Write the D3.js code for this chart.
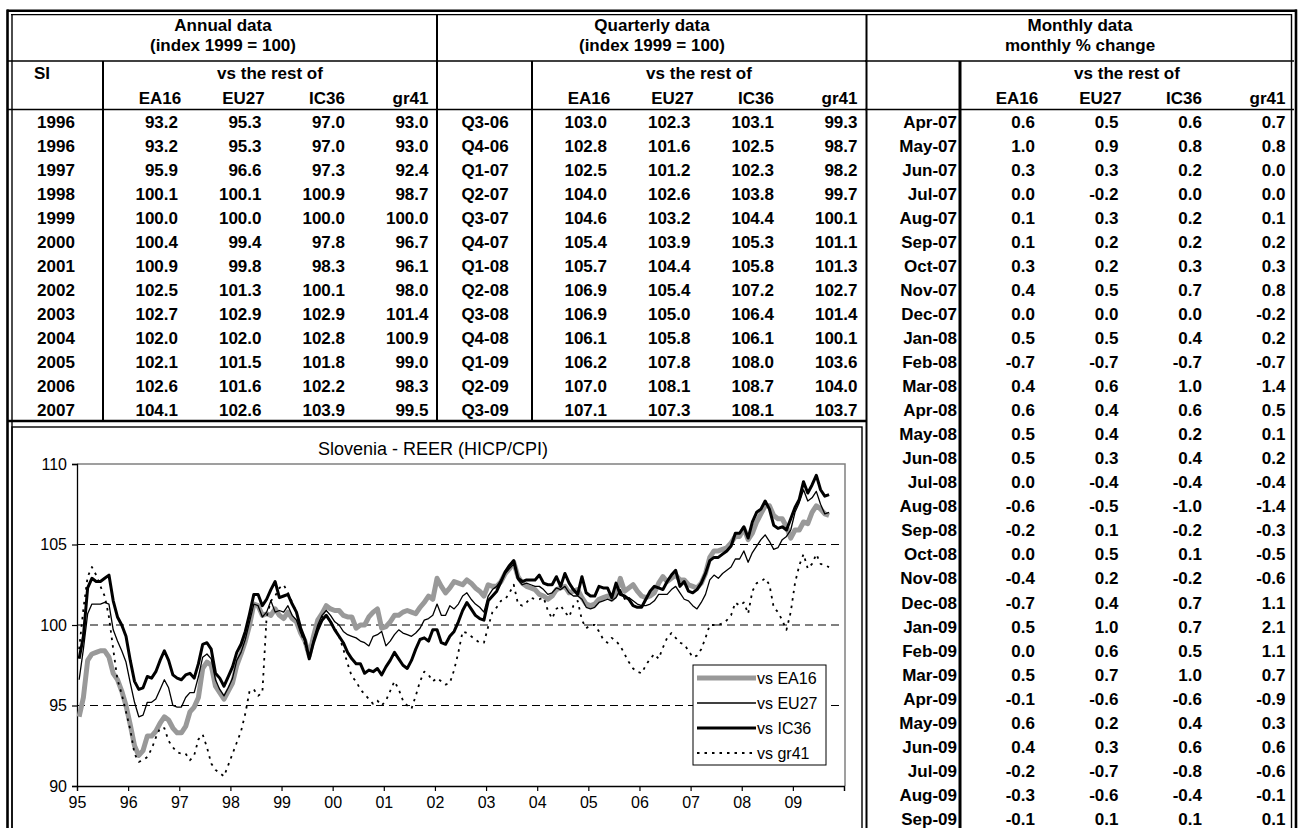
<!DOCTYPE html>
<html>
<head>
<meta charset="utf-8">
<script src="https://cdn.jsdelivr.net/npm/d3@7"></script>
<style>
body { margin: 0; background: #fff; }
svg text { font-family: Arial, "Liberation Sans", sans-serif; fill: #000; }
</style>
</head>
<body>
<svg id="page" width="1303" height="828"></svg>
<script>
var seriesNames = ['EA16', 'EU27', 'IC36', 'gr41'];

var annualLabels = ['1996', '1996', '1997', '1998', '1999', '2000', '2001', '2002', '2003', '2004', '2005', '2006', '2007'];
var annualRows = [
	[93.2, 95.3, 97.0, 93.0], [93.2, 95.3, 97.0, 93.0], [95.9, 96.6, 97.3, 92.4], [100.1, 100.1, 100.9, 98.7],
	[100.0, 100.0, 100.0, 100.0], [100.4, 99.4, 97.8, 96.7], [100.9, 99.8, 98.3, 96.1], [102.5, 101.3, 100.1, 98.0],
	[102.7, 102.9, 102.9, 101.4], [102.0, 102.0, 102.8, 100.9], [102.1, 101.5, 101.8, 99.0], [102.6, 101.6, 102.2, 98.3],
	[104.1, 102.6, 103.9, 99.5]
];

var quarterLabels = ['Q3-06', 'Q4-06', 'Q1-07', 'Q2-07', 'Q3-07', 'Q4-07', 'Q1-08', 'Q2-08', 'Q3-08', 'Q4-08', 'Q1-09', 'Q2-09', 'Q3-09'];
var quarterRows = [
	[103.0, 102.3, 103.1, 99.3], [102.8, 101.6, 102.5, 98.7], [102.5, 101.2, 102.3, 98.2], [104.0, 102.6, 103.8, 99.7],
	[104.6, 103.2, 104.4, 100.1], [105.4, 103.9, 105.3, 101.1], [105.7, 104.4, 105.8, 101.3], [106.9, 105.4, 107.2, 102.7],
	[106.9, 105.0, 106.4, 101.4], [106.1, 105.8, 106.1, 100.1], [106.2, 107.8, 108.0, 103.6], [107.0, 108.1, 108.7, 104.0],
	[107.1, 107.3, 108.1, 103.7]
];

var monthLabels = ['Apr-07', 'May-07', 'Jun-07', 'Jul-07', 'Aug-07', 'Sep-07', 'Oct-07', 'Nov-07', 'Dec-07', 'Jan-08',
	'Feb-08', 'Mar-08', 'Apr-08', 'May-08', 'Jun-08', 'Jul-08', 'Aug-08', 'Sep-08', 'Oct-08', 'Nov-08', 'Dec-08',
	'Jan-09', 'Feb-09', 'Mar-09', 'Apr-09', 'May-09', 'Jun-09', 'Jul-09', 'Aug-09', 'Sep-09'];
var monthRows = [
	[0.6, 0.5, 0.6, 0.7], [1.0, 0.9, 0.8, 0.8], [0.3, 0.3, 0.2, 0.0], [0.0, -0.2, 0.0, 0.0], [0.1, 0.3, 0.2, 0.1],
	[0.1, 0.2, 0.2, 0.2], [0.3, 0.2, 0.3, 0.3], [0.4, 0.5, 0.7, 0.8], [0.0, 0.0, 0.0, -0.2], [0.5, 0.5, 0.4, 0.2],
	[-0.7, -0.7, -0.7, -0.7], [0.4, 0.6, 1.0, 1.4], [0.6, 0.4, 0.6, 0.5], [0.5, 0.4, 0.2, 0.1], [0.5, 0.3, 0.4, 0.2],
	[0.0, -0.4, -0.4, -0.4], [-0.6, -0.5, -1.0, -1.4], [-0.2, 0.1, -0.2, -0.3], [0.0, 0.5, 0.1, -0.5], [-0.4, 0.2, -0.2, -0.6],
	[-0.7, 0.4, 0.7, 1.1], [0.5, 1.0, 0.7, 2.1], [0.0, 0.6, 0.5, 1.1], [0.5, 0.7, 1.0, 0.7], [-0.1, -0.6, -0.6, -0.9],
	[0.6, 0.2, 0.4, 0.3], [0.4, 0.3, 0.6, 0.6], [-0.2, -0.7, -0.8, -0.6], [-0.3, -0.6, -0.4, -0.1], [-0.1, 0.1, 0.1, 0.1]
];

// monthly REER, Jan 1995 .. Sep 2009
var reerEA16 = [
	94.3, 95.5, 97.8, 98.2, 98.3, 98.4, 98.4, 98.0, 97.0, 96.6, 95.9, 95.0,
	93.8, 92.5, 91.9, 92.2, 93.1, 93.1, 93.4, 93.9, 94.3, 94.1, 93.6, 93.3,
	93.3, 93.7, 94.6, 94.9, 95.5, 97.3, 97.7, 97.5, 96.2, 95.8, 95.4, 95.9,
	96.4, 97.5, 98.2, 99.0, 100.0, 101.3, 101.2, 100.6, 100.7, 100.6, 101.0, 100.6,
	100.4, 100.8, 100.4, 100.2, 99.5, 99.0, 98.1, 99.3, 100.3, 100.7, 101.2, 101.0,
	100.9, 100.9, 100.6, 100.5, 100.5, 99.8, 100.0, 100.0, 100.5, 100.8, 101.0, 99.8,
	99.9, 100.2, 100.6, 100.6, 100.8, 100.9, 100.8, 100.7, 101.1, 101.4, 101.8, 101.6,
	102.9, 102.4, 102.0, 102.3, 102.7, 102.6, 102.5, 102.8, 102.6, 102.3, 102.1, 101.8,
	102.5, 102.4, 102.4, 102.7, 103.2, 103.5, 103.9, 103.0, 102.6, 102.4, 102.3, 102.2,
	101.9, 101.8, 101.6, 101.8, 102.2, 102.3, 102.4, 102.0, 102.1, 102.2, 101.7, 101.3,
	101.2, 101.3, 101.6, 101.7, 101.8, 101.6, 101.9, 102.9, 102.1, 102.3, 102.5, 102.1,
	101.8, 101.7, 101.8, 102.0, 102.6, 103.0, 102.7, 102.9, 103.1, 102.8, 102.8, 102.5,
	102.4, 102.3, 102.6, 103.2, 104.2, 104.6, 104.6, 104.7, 104.8, 105.1, 105.5, 105.5,
	106.0, 105.3, 105.7, 106.4, 106.9, 107.4, 107.4, 106.8, 106.6, 106.6, 106.1, 105.4,
	105.9, 105.9, 106.4, 106.3, 107.0, 107.4, 107.2, 106.9, 106.8
];
var reerEU27 = [
	96.6, 98.5, 100.7, 101.3, 101.3, 101.3, 101.4, 101.3, 99.7, 99.0, 98.4, 97.7,
	96.4, 95.2, 94.3, 94.4, 95.2, 95.2, 95.4, 96.0, 96.6, 96.1, 95.0, 94.9,
	94.9, 95.5, 95.8, 95.8, 96.8, 98.0, 98.2, 97.9, 96.6, 96.0, 95.6, 96.1,
	96.7, 97.8, 98.3, 99.1, 100.2, 101.3, 101.2, 100.5, 100.8, 101.5, 100.8, 100.9,
	100.8, 101.2, 100.6, 100.3, 99.5, 99.0, 97.9, 99.1, 100.0, 100.6, 100.9, 100.6,
	100.2, 100.0, 99.6, 99.4, 99.3, 99.2, 99.0, 98.9, 98.7, 99.3, 99.4, 99.6,
	98.7, 99.0, 99.4, 99.7, 99.5, 99.4, 99.3, 99.5, 99.8, 100.3, 100.4, 100.6,
	101.3, 100.6, 100.6, 101.2, 101.0, 101.3, 101.8, 102.0, 101.6, 101.3, 101.1, 100.8,
	101.8, 102.2, 102.4, 102.8, 103.2, 103.5, 103.8, 102.8, 102.5, 102.6, 102.5, 102.4,
	102.4, 102.2, 101.9, 102.0, 102.3, 102.2, 102.4, 102.0, 101.8, 101.8, 101.6, 101.1,
	101.0, 101.1, 101.4, 101.5, 101.6, 101.5, 101.7, 102.2, 101.6, 101.7, 101.5, 101.3,
	101.2, 101.2, 101.3, 101.5, 101.9, 101.9, 101.9, 102.2, 102.4, 102.0, 101.6, 101.5,
	101.2, 101.0, 101.4, 101.9, 102.8, 103.1, 102.9, 103.2, 103.4, 103.6, 104.1, 104.1,
	104.6, 103.9, 104.5, 104.9, 105.3, 105.6, 105.2, 104.7, 104.8, 105.3, 105.5, 105.9,
	107.0, 107.6, 108.4, 107.7, 107.9, 108.3, 107.5, 106.9, 107.0
];
var reerIC36 = [
	97.9, 99.3, 102.3, 102.9, 102.7, 102.7, 102.9, 103.1, 101.5, 100.5, 100.0, 99.3,
	97.8, 96.5, 96.0, 96.1, 96.8, 96.7, 97.1, 97.8, 98.4, 97.8, 96.9, 96.7,
	96.6, 96.9, 97.0, 96.7, 97.6, 98.8, 98.9, 98.5, 97.0, 96.7, 96.2, 96.8,
	97.4, 98.3, 98.8, 99.6, 100.7, 101.9, 101.9, 101.2, 101.6, 102.2, 102.7, 101.7,
	101.8, 101.9, 101.3, 100.8, 99.8, 99.1, 97.9, 98.9, 99.7, 100.3, 100.6, 100.2,
	99.7, 99.3, 98.9, 98.3, 97.9, 97.6, 97.6, 97.0, 97.2, 97.1, 97.3, 96.9,
	97.4, 97.8, 98.3, 97.9, 97.5, 97.3, 97.8, 98.5, 99.1, 99.2, 99.0, 99.7,
	99.7, 98.9, 98.8, 99.3, 99.6, 100.2, 100.9, 101.4, 101.0, 100.6, 100.4, 100.3,
	101.5, 101.8, 102.1, 102.7, 103.3, 103.7, 104.0, 102.9, 102.7, 102.8, 102.8, 102.8,
	103.1, 102.6, 102.5, 102.5, 103.0, 102.4, 103.2, 102.6, 102.2, 101.9, 103.0, 102.0,
	101.8, 101.8, 102.4, 102.3, 102.3, 101.7, 102.6, 101.9, 101.8, 101.6, 101.2, 101.1,
	101.1, 101.6, 102.1, 102.4, 102.3, 102.2, 102.7, 103.1, 103.4, 102.4, 102.7, 102.1,
	102.0, 102.2, 102.6, 103.2, 104.0, 104.2, 104.2, 104.4, 104.6, 104.9, 105.7, 105.7,
	106.1, 105.4, 106.4, 107.0, 107.2, 107.7, 107.2, 106.2, 106.0, 106.1, 105.9, 106.6,
	107.3, 107.8, 108.9, 108.2, 108.7, 109.3, 108.4, 108.0, 108.1
];
var reerGR41 = [
	98.5, 101.0, 103.0, 103.6, 103.1, 102.4, 101.8, 100.5, 98.5, 96.6, 95.7, 94.6,
	93.5, 92.0, 91.5, 91.6, 91.8, 92.3, 93.0, 93.6, 93.6, 92.8, 92.4, 92.1,
	92.0, 92.0, 91.6, 91.9, 92.9, 93.2, 92.4, 91.4, 91.0, 90.8, 90.6, 91.3,
	92.0, 92.7, 93.4, 94.5, 95.9, 96.0, 95.6, 95.8, 100.5, 101.5, 101.8, 102.3,
	102.5, 102.0, 101.4, 100.8, 99.6, 98.8, 97.9, 98.9, 99.8, 100.5, 100.6, 100.2,
	99.8, 99.3, 98.5, 97.6, 96.8, 96.5, 96.0, 95.7, 95.4, 95.1, 95.3, 95.0,
	95.3, 95.9, 96.5, 96.0, 95.3, 95.0, 94.8, 95.6, 96.5, 97.1, 96.9, 96.5,
	96.7, 96.5, 96.3, 96.4, 97.2, 98.3, 99.6, 99.5, 99.3, 99.1, 98.9, 98.9,
	99.9, 100.8, 101.1, 101.5, 101.6, 102.0, 102.5, 101.3, 101.2, 101.4, 101.7, 101.6,
	101.6, 101.7, 100.9, 100.4, 101.0, 101.2, 100.8, 100.5, 101.2, 101.5, 100.3, 99.8,
	100.0, 100.0, 99.6, 99.1, 98.9, 99.2, 99.0, 98.7, 98.2, 97.7, 97.3, 97.1,
	97.0, 97.5, 97.9, 98.2, 97.9, 98.6, 99.2, 99.5, 99.2, 98.9, 98.8, 98.4,
	98.0, 98.1, 98.5, 99.2, 100.0, 100.0, 100.0, 100.1, 100.3, 100.6, 101.4, 101.2,
	101.4, 100.7, 102.1, 102.6, 102.7, 102.9, 102.5, 101.1, 100.8, 100.3, 99.7, 100.8,
	102.6, 103.7, 104.4, 103.5, 103.8, 104.4, 103.8, 103.7, 103.6
];

var xTickLabels = ['95', '96', '97', '98', '99', '00', '01', '02', '03', '04', '05', '06', '07', '08', '09'];
var yTicks = [90, 95, 100, 105, 110];
var gridValues = [95, 100, 105];

var svg = d3.select('#page');

var rowTop = 109.5, rowH = 24.05;

drawSection = function(sx, title, subtitle, corner, labels, rows, monthly) {
	var g = svg.append('g').style('font-weight', 'bold').style('font-size', '17px');
	var divider = sx + 95;
	var right = sx + 429;
	var bottom = monthly ? 840 : 421;

	g.append('text').attr('x', sx + 215).attr('y', 31).attr('text-anchor', 'middle').text(title);
	g.append('text').attr('x', sx + 215).attr('y', 51).attr('text-anchor', 'middle').text(subtitle);
	g.append('text').attr('x', sx + 34).attr('y', 79).attr('text-anchor', 'middle').text(corner);
	g.append('text').attr('x', sx + 262).attr('y', 79).attr('text-anchor', 'middle').text('vs the rest of');

	g.selectAll('text.head').data(seriesNames).join('text')
		.attr('class', 'head')
		.attr('x', function(d, j) { return sx + 152 + j * 83.5; })
		.attr('y', 103.5)
		.attr('text-anchor', 'middle')
		.text(function(d) { return d; });

	g.selectAll('text.lab').data(labels).join('text')
		.attr('class', 'lab')
		.attr('x', monthly ? divider - 3 : sx + 48)
		.attr('y', function(d, i) { return rowTop + i * rowH + rowH / 2 + 6; })
		.attr('text-anchor', monthly ? 'end' : 'middle')
		.text(function(d) { return d; });

	g.selectAll('g.row').data(rows).join('g')
		.attr('class', 'row')
		.attr('transform', function(d, i) { return 'translate(0,' + (rowTop + i * rowH + rowH / 2 + 6) + ')'; })
		.selectAll('text').data(function(d) { return d; }).join('text')
			.attr('x', function(d, j) { return sx + 170 + j * 83.5; })
			.attr('text-anchor', 'end')
			.text(function(d) { return d.toFixed(1); });

	// cell borders
	var lines = [
		[sx, 61, right, 61, 1.3],
		[sx, rowTop, right, rowTop, 1.6],
		[divider, 61, divider, bottom, monthly ? 3 : 2]
	];
	g.selectAll('line').data(lines).join('line')
		.attr('x1', function(d) { return d[0]; })
		.attr('y1', function(d) { return d[1]; })
		.attr('x2', function(d) { return d[2]; })
		.attr('y2', function(d) { return d[3]; })
		.style('stroke', '#000')
		.style('stroke-width', function(d) { return d[4]; });
};

drawSection(8, 'Annual data', '(index 1999 = 100)', 'SI', annualLabels, annualRows, false);
drawSection(437, 'Quarterly data', '(index 1999 = 100)', '', quarterLabels, quarterRows, false);
drawSection(865, 'Monthly data', 'monthly % change', '', monthLabels, monthRows, true);

// outer frame of the sheet
var frame = [
	[7, 10.7, 1297, 10.7, 2.6], [11, 14.6, 1292, 14.6, 1.4],
	[7.5, 9.5, 7.5, 840, 2.6], [12, 14, 12, 840, 1.4],
	[1296, 9.5, 1296, 840, 2.6], [1291.5, 14, 1291.5, 840, 1.4],
	[437, 14, 437, 421, 2], [866.5, 14, 866.5, 840, 2],
	[7, 421, 867, 421, 2.4]
];
svg.append('g').selectAll('line').data(frame).join('line')
	.attr('x1', function(d) { return d[0]; })
	.attr('y1', function(d) { return d[1]; })
	.attr('x2', function(d) { return d[2]; })
	.attr('y2', function(d) { return d[3]; })
	.style('stroke', '#000')
	.style('stroke-width', function(d) { return d[4]; });

// chart box (double border)
svg.append('rect').attr('x', 12).attr('y', 427).attr('width', 850).attr('height', 420)
	.style('fill', 'none').style('stroke', '#000').style('stroke-width', 1.4);

var chart = svg.append('g');

var x = d3.scaleLinear().domain([0, 180]).range([77, 844]);
var y = d3.scaleLinear().domain([90, 110]).range([786, 464]);

chart.append('text')
	.attr('x', 433)
	.attr('y', 455)
	.attr('text-anchor', 'middle')
	.style('font-size', '18px')
	.text('Slovenia - REER (HICP/CPI)');

chart.selectAll('line.grid').data(gridValues).join('line')
	.attr('class', 'grid')
	.attr('x1', 77).attr('x2', 844)
	.attr('y1', function(d) { return y(d); })
	.attr('y2', function(d) { return y(d); })
	.style('stroke', '#000')
	.style('stroke-width', 1)
	.style('stroke-dasharray', '8,5');

chart.append('path')
	.attr('d', 'M77,' + y(110) + 'H845V' + y(90))
	.style('fill', 'none')
	.style('stroke', '#808080')
	.style('stroke-width', 1.5);

var yAxis = chart.append('g')
	.attr('transform', 'translate(77,0)')
	.call(d3.axisLeft(y).tickValues(yTicks).tickSize(5).tickPadding(5).tickFormat(d3.format('d')));
var xAxis = chart.append('g')
	.attr('transform', 'translate(0,' + y(90) + ')')
	.call(d3.axisBottom(x).tickValues(d3.range(0, 181, 12)).tickSize(5).tickPadding(6)
		.tickFormat(function(d, i) { return xTickLabels[i] || ''; }));

[yAxis, xAxis].forEach(function(ax) {
	ax.select('.domain').style('stroke', '#000').style('stroke-width', 1.3);
	ax.selectAll('.tick line').style('stroke', '#000').style('stroke-width', 1.2);
	ax.selectAll('text').style('font-size', '16px').style('font-family', 'Arial, "Liberation Sans", sans-serif').style('fill', '#000');
});

var styles = [
	{ name: 'vs EA16', data: reerEA16, color: '#999999', width: 5, dash: null },
	{ name: 'vs EU27', data: reerEU27, color: '#000', width: 1.3, dash: null },
	{ name: 'vs IC36', data: reerIC36, color: '#000', width: 3, dash: null },
	{ name: 'vs gr41', data: reerGR41, color: '#000', width: 1.8, dash: '2.5,5' }
];

var line = d3.line()
	.x(function(d, i) { return x(i + 0.5); })
	.y(function(d) { return y(d); });

chart.selectAll('path.series').data(styles).join('path')
	.attr('class', 'series')
	.attr('d', function(d) { return line(d.data); })
	.style('fill', 'none')
	.style('stroke', function(d) { return d.color; })
	.style('stroke-width', function(d) { return d.width; })
	.style('stroke-dasharray', function(d) { return d.dash; })
	.style('stroke-linejoin', 'round');

var legend = chart.append('g');
legend.append('rect')
	.attr('x', 693).attr('y', 665).attr('width', 133).attr('height', 100)
	.style('fill', '#fff').style('stroke', '#000').style('stroke-width', 1);

var entries = legend.selectAll('g.entry').data(styles).join('g')
	.attr('class', 'entry')
	.attr('transform', function(d, i) { return 'translate(0,' + (678 + i * 25) + ')'; });
entries.append('line')
	.attr('x1', 697).attr('x2', 756)
	.style('stroke', function(d) { return d.color; })
	.style('stroke-width', function(d) { return d.width; })
	.style('stroke-dasharray', function(d) { return d.dash; });
entries.append('text')
	.attr('x', 757).attr('y', 6)
	.style('font-size', '16px')
	.text(function(d) { return d.name; });
</script>
</body>
</html>
